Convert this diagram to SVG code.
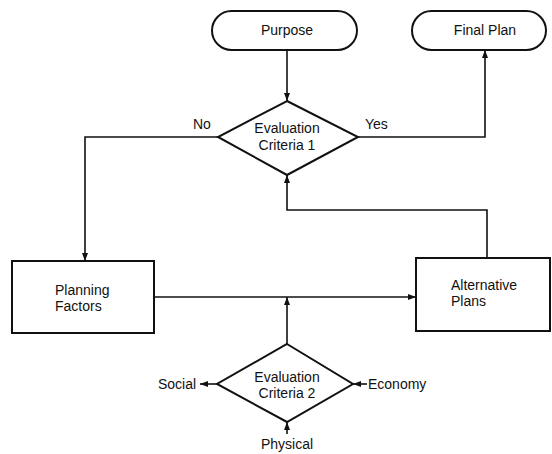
<svg xmlns="http://www.w3.org/2000/svg" width="552" height="454" viewBox="0 0 552 454">
  <defs>
    <marker id="arrow" viewBox="0 0 8 6" refX="8" refY="3" markerWidth="8" markerHeight="6" markerUnits="userSpaceOnUse" orient="auto">
      <path d="M0,0 L8,3 L0,6 Z" fill="#111"/>
    </marker>
    <style>
      .shape { fill: #fff; stroke: #111; stroke-width: 2; }
      .conn { fill: none; stroke: #111; stroke-width: 1.6; }
      .lbl { font-family: "Liberation Sans", Arial, sans-serif; font-size: 14px; fill: #111; }
      .mid { text-anchor: middle; }
    </style>
  </defs>
  <rect width="552" height="454" fill="#fff"/>

  <g id="connectors">
    <!-- Purpose to criteria 1 -->
    <path class="conn" d="M287,50 V101" marker-end="url(#arrow)"/>
    <!-- No branch to planning factors -->
    <path class="conn" d="M218,137 H85 V261" marker-end="url(#arrow)"/>
    <!-- Yes branch to final plan -->
    <path class="conn" d="M358,137 H485 V50" marker-end="url(#arrow)"/>
    <!-- Alternative plans back to criteria 1 -->
    <path class="conn" d="M487,258 V210 H287 V175" marker-end="url(#arrow)"/>
    <!-- Planning factors to alternative plans -->
    <path class="conn" d="M154,297 H416" marker-end="url(#arrow)"/>
    <!-- Criteria 2 feeding the link -->
    <path class="conn" d="M287,344 V297" marker-end="url(#arrow)"/>
    <!-- Criteria 2 factors -->
    <path class="conn" d="M217,384 H200" marker-end="url(#arrow)"/>
    <path class="conn" d="M367,384 H353" marker-end="url(#arrow)"/>
    <path class="conn" d="M287,434 V422" marker-end="url(#arrow)"/>
  </g>

  <g id="purpose">
    <rect class="shape" x="212" y="11" width="145" height="39" rx="19.5"/>
    <text class="lbl mid" x="287" y="35">Purpose</text>
  </g>

  <g id="final-plan">
    <rect class="shape" x="412" y="11" width="134" height="39" rx="19.5"/>
    <text class="lbl mid" x="485" y="35">Final Plan</text>
  </g>

  <g id="criteria-1">
    <polygon class="shape" points="287,101 358,137 287,175 218,137"/>
    <text class="lbl mid" x="287" y="133">Evaluation</text>
    <text class="lbl mid" x="287" y="150">Criteria 1</text>
    <text class="lbl" x="193" y="129">No</text>
    <text class="lbl" x="365" y="129">Yes</text>
  </g>

  <g id="planning-factors">
    <rect class="shape" x="12" y="261" width="142" height="72"/>
    <text class="lbl" x="55" y="295">Planning</text>
    <text class="lbl" x="55" y="311">Factors</text>
  </g>

  <g id="alternative-plans">
    <rect class="shape" x="416" y="258" width="134" height="73"/>
    <text class="lbl" x="451" y="290">Alternative</text>
    <text class="lbl" x="451" y="306">Plans</text>
  </g>

  <g id="criteria-2">
    <polygon class="shape" points="287,344 353,384 287,422 217,384"/>
    <text class="lbl mid" x="287" y="382">Evaluation</text>
    <text class="lbl mid" x="287" y="398">Criteria 2</text>
  </g>

  <g id="social">
    <text class="lbl" x="158" y="389">Social</text>
  </g>
  <g id="economy">
    <text class="lbl" x="368" y="389">Economy</text>
  </g>
  <g id="physical">
    <text class="lbl mid" x="287" y="449">Physical</text>
  </g>
</svg>
